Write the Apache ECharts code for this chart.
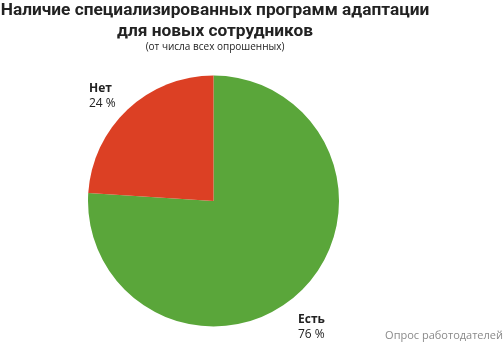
<!DOCTYPE html>
<html><head><meta charset="utf-8">
<script src="https://cdn.jsdelivr.net/npm/echarts@6/dist/echarts.min.js"></script>
<style>html,body{margin:0;padding:0;background:#fff}#c{width:504px;height:343px}</style>
</head><body><div id="c"></div>
<script>
const categories = ['Есть', 'Нет'];
const values = [76, 24];
const colors = ['#5aa63a', '#dc4024'];

const chart = echarts.init(document.getElementById('c'));
chart.setOption({
  animation: false,
  title: [
    {
      text: 'Наличие специализированных программ адаптации\nдля новых сотрудников',
      left: 215, top: 0, textAlign: 'center', padding: 0,
      textStyle: {fontFamily: 'Roboto', fontWeight: 'bold', fontSize: 17.3, color: '#222', lineHeight: 21}
    },
    {
      text: '(от числа всех опрошенных)',
      left: 215, top: 42, textAlign: 'center', padding: 0,
      textStyle: {fontFamily: 'Open Sans', fontWeight: 'normal', fontSize: 10, color: '#222'}
    },
    {
      text: 'Опрос работодателей',
      right: 1, top: 330, padding: 0,
      textStyle: {fontFamily: 'Open Sans', fontWeight: 'normal', fontSize: 11, color: '#8a8a8a'}
    }
  ],
  series: [{
    type: 'pie',
    center: [213.5, 201],
    radius: 125.5,
    startAngle: 90,
    clockwise: true,
    data: categories.map((c, i) => ({name: c, value: values[i], itemStyle: {color: colors[i]}})),
    label: {
      show: true,
      position: 'outside',
      formatter: p => '{b|' + p.name + '}\n{v|' + p.value + ' %}',
      rich: {
        b: {fontFamily: 'Open Sans', fontWeight: 'bold', fontSize: 12, color: '#222', lineHeight: 15},
        v: {fontFamily: 'Open Sans', fontSize: 12, color: '#222', lineHeight: 15}
      },
      align: 'left'
    },
    labelLine: {show: false},
    labelLayout: p => p.dataIndex === 0
      ? {x: 298, y: 327, align: 'left', verticalAlign: 'middle'}
      : {x: 89, y: 96, align: 'left', verticalAlign: 'middle'}
  }]
});
</script></body></html>
